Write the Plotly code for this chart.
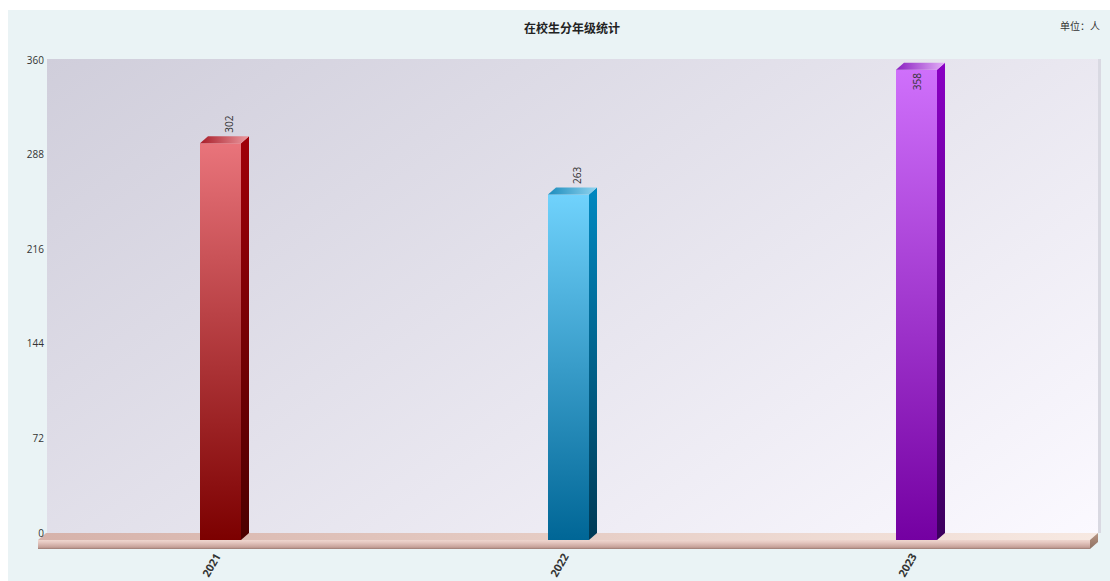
import base64
import plotly.graph_objects as go

# --- Dados ---
anos = ["2021", "2022", "2023"]
alunos = [302, 263, 358]
y_ticks = [0, 72, 144, 216, 288, 360]

cor_frente = [("#e9747b", "#7c0000"), ("#70d2fc", "#006696"), ("#cf70fb", "#7400a2")]
cor_lado = [("#a00008", "#4c0000"), ("#0088c0", "#003a55"), ("#8a00c4", "#3c005e")]
cor_topo = [("#a81c28", "#ec9aa0"), ("#1c8cbc", "#90d4f0"), ("#8a20c0", "#e4b0f8")]

W, H = 1110, 581
TOPO, BASE, DIR = 59, 549, 1099    # caixa do grafico em px
ESC_Y = 473 / 360                  # px por aluno
PASSO = 348                        # px entre categorias
X0 = 220.5                         # px do centro da primeira barra
PROF_X = 8 / PASSO
PROF_Y = 7 / ESC_Y
MEIA = 20.5 / PASSO


def poligono(xs, ys, tipo, escala, eixo="y"):
    return go.Scatter(
        x=xs, y=ys, mode="lines", fill="toself", yaxis=eixo,
        line=dict(width=0), hoverinfo="skip", showlegend=False,
        fillgradient=dict(type=tipo, colorscale=escala),
    )


fig = go.Figure()

# Piso
esq = -(X0 - 38) / PASSO
dir_ = (1090 - X0) / PASSO
pe = 9 / ESC_Y
fig.add_trace(poligono([esq, dir_, dir_ + PROF_X, esq + PROF_X, esq],
                       [0, 0, PROF_Y, PROF_Y, 0], "horizontal",
                       [[0, "#d6b2aa"], [0.5, "#e6cdc5"], [1, "#f7e9e2"]]))
fig.add_trace(poligono([esq, dir_, dir_, esq, esq],
                       [0, 0, -pe, -pe, 0], "vertical",
                       [[0, "#9a7b73"], [0.2, "#c6a199"], [0.75, "#e6c9c2"], [1, "#eed6cf"]]))
fig.add_trace(poligono([dir_, dir_ + PROF_X, dir_ + PROF_X, dir_, dir_],
                       [0, PROF_Y, PROF_Y - pe, -pe, 0], "vertical",
                       [[0, "#8e7062"], [1, "#b89684"]]))

# Barras
for i, v in enumerate(alunos):
    e, d = i - MEIA, i + MEIA
    fig.add_trace(poligono([e, d, d, e, e], [0, 0, v, v, 0], "vertical",
                           [[0, cor_frente[i][1]], [1, cor_frente[i][0]]]))
    fig.add_trace(poligono([d, d + PROF_X, d + PROF_X, d, d],
                           [0, PROF_Y, v + PROF_Y, v, 0], "vertical",
                           [[0, cor_lado[i][1]], [1, cor_lado[i][0]]]))
    fig.add_trace(poligono([e, d, d + PROF_X, e + PROF_X, e],
                           [v, v, v + PROF_Y, v + PROF_Y, v], "horizontal",
                           [[0, cor_topo[i][0]], [1, cor_topo[i][1]]]))

# Eixo de valores fica na parede do fundo
fig.add_trace(go.Scatter(x=[0] * len(y_ticks), y=y_ticks, yaxis="y2", mode="markers",
                         marker=dict(opacity=0, size=1), hoverinfo="skip", showlegend=False))

# Rotulos de valor giram junto com a barra
for i, v in enumerate(alunos):
    fora = v + PROF_Y + 20 / ESC_Y < 360
    fig.add_annotation(
        x=i + (PROF_X if fora else 0), y=v + PROF_Y,
        xshift=1 if fora else 0, yshift=12 if fora else -19,
        text=str(v), textangle=-90, showarrow=False,
        font=dict(family="Open Sans", size=10, color="#333333"),
    )

parede = """<svg xmlns="http://www.w3.org/2000/svg" width="1052" height="474">
<defs><linearGradient id="g" gradientUnits="userSpaceOnUse" x1="0" y1="0" x2="553" y2="815">
<stop offset="0" stop-color="#d0cedb"/><stop offset="1" stop-color="#fbf9ff"/>
</linearGradient></defs><rect width="1052" height="474" fill="url(#g)"/></svg>"""
fig.add_layout_image(
    source="data:image/svg+xml;base64," + base64.b64encode(parede.encode()).decode(),
    xref="paper", yref="paper", x=47 / W, y=1 - TOPO / H,
    sizex=(DIR - 47) / W, sizey=474 / H, sizing="stretch",
    xanchor="left", yanchor="top", layer="below",
)

# Bordas brancas da pagina e filete da parede
for x0, y0, x1, y1, cor in [(0, 0, W, 10, "white"), (0, 0, 8, H, "white"),
                            (DIR - 1, TOPO, DIR + 2, 533, "#d9d9e2")]:
    fig.add_shape(type="rect", xref="paper", yref="paper", layer="below",
                  x0=x0 / W, x1=x1 / W, y0=1 - y0 / H, y1=1 - y1 / H,
                  line_width=0, fillcolor=cor)

fig.add_annotation(xref="paper", yref="paper", x=572 / W, y=1 - 27.5 / H, yanchor="middle",
                   text="<b>在校生分年级统计</b>", showarrow=False,
                   font=dict(family="Noto Sans CJK SC", size=12, color="#222222"))
fig.add_annotation(xref="paper", yref="paper", x=1102 / W, y=1 - 26 / H, xanchor="right", yanchor="middle",
                   text="单位：人", showarrow=False,
                   font=dict(family="Noto Sans CJK SC", size=10, color="#333333"))

fig.update_layout(
    width=W, height=H, margin=dict(l=0, r=0, t=0, b=0), autosize=False,
    paper_bgcolor="#eaf3f5", plot_bgcolor="rgba(0,0,0,0)",
    font=dict(family="Open Sans"), showlegend=False,
    xaxis=dict(
        domain=[0, DIR / W], range=[-X0 / PASSO, (DIR - X0) / PASSO], automargin=False,
        tickvals=list(range(len(anos))), ticktext=anos, tickangle=-60,
        tickfont=dict(family="Open Sans", size=11, color="#333333", weight=700),
        ticklabelshift=-4, ticklabelstandoff=-2,
        showgrid=False, zeroline=False, showline=False, ticks="",
    ),
    yaxis=dict(
        domain=[1 - BASE / H, 1 - TOPO / H], range=[-9 / ESC_Y, 481 / ESC_Y], automargin=False,
        visible=False, showgrid=False, zeroline=False,
    ),
    yaxis2=dict(
        overlaying="y", anchor="free", position=44 / W, side="left", automargin=False,
        range=[-16 / ESC_Y, 474 / ESC_Y], tickvals=y_ticks,
        tickfont=dict(family="Open Sans", size=10, color="#333333"),
        showgrid=False, zeroline=False, showline=False, ticks="",
    ),
)

fig.write_html("out.html", config=dict(displayModeBar=False),
               post_script="document.body.style.margin='0';document.body.style.overflow='hidden';")
